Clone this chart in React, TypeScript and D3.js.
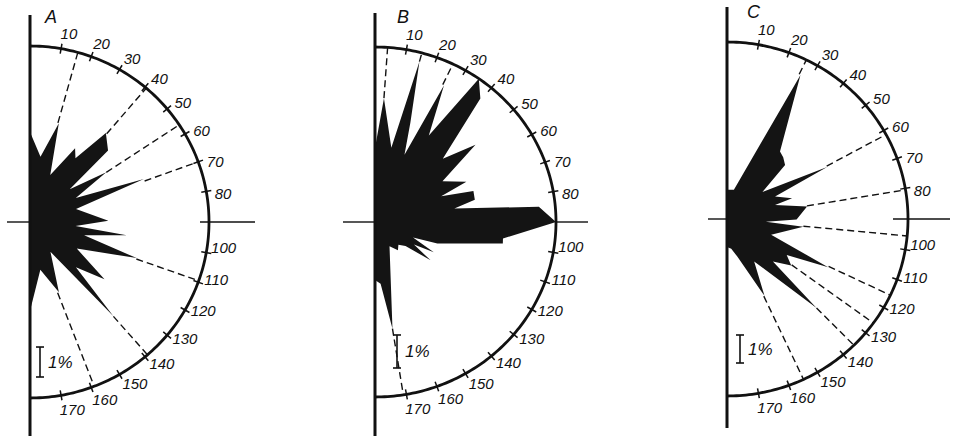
import * as d3 from "d3";
import React, { useEffect, useRef } from "react";

// outline of each rose: [direction in degrees, clockwise from the top, share in %]
const roseA: [number, number][] = [
    [0, 3.0], [9, 2.2], [16, 3.43], [23, 1.7], [31, 2.87], [35, 2.6],
    [40, 3.87], [47, 3.5], [50, 1.7], [56.5, 3.0], [62, 1.7], [69, 4.0],
    [74, 1.57], [89, 2.57], [95, 1.5], [98, 3.2], [104, 1.83], [109, 3.7],
    [120, 1.77], [128, 3.1], [135, 2.13], [139, 4.17], [146, 1.2],
    [158, 2.53], [168, 1.63], [180, 2.97],
];

const roseB: [number, number][] = [
    [0, 2.24], [4, 3.76], [12, 2.3], [15, 5.03], [19, 3.18], [23, 2.21],
    [26, 4.61], [31, 3.06], [35, 5.3], [39.5, 4.85], [46, 2.76],
    [51.5, 3.76], [58, 2.33], [65.5, 2.94], [68, 2.09], [72, 3.03],
    [77, 3.0], [80, 2.36], [84.5, 4.82], [90, 5.3], [97.6, 3.78],
    [99.9, 3.8], [109.7, 1.94], [113, 1.21], [118, 1.95], [121, 1.33],
    [125.5, 2.0], [129, 1.15], [135, 0.97], [142, 1.09], [150, 0.85],
    [171, 3.27], [175, 1.88], [180, 1.76],
];

const roseC: [number, number][] = [
    [0, 1.04], [13, 1.07], [26.5, 5.75], [37.5, 3.04], [41.7, 2.95],
    [46.4, 2.8], [52, 1.57], [62, 3.96], [64.5, 1.86], [72, 2.39],
    [73.5, 1.75], [81, 2.83], [90.5, 2.43], [94, 1.36], [96, 2.68],
    [110, 1.64], [116, 3.93], [121.7, 2.45], [126.5, 2.79], [133.5, 2.21],
    [135.5, 4.46], [148, 1.79], [154.5, 3.04], [165, 1.39], [172, 1.07],
    [180, 1.0],
];

// dashed guide lines: [direction, share where the guide starts]
const guidesA: [number, number][] = [
    [15.5, 3.43], [40.5, 3.87], [56.5, 3.0], [70, 4.0], [109.5, 3.7],
    [139, 4.17], [159, 2.53],
];
const guidesB: [number, number][] = [
    [4, 3.76], [15, 5.03], [25.5, 4.61], [171, 3.27],
];
const guidesC: [number, number][] = [
    [26, 5.75], [61.5, 3.96], [80.5, 2.83], [95.5, 2.68], [115.5, 3.93],
    [126, 2.79], [135.5, 4.46], [155, 3.04],
];

const tickAngles = d3.range(10, 180, 10).filter((a) => a !== 90);
const panelNames = ["A", "B", "C"];
const scaleLabel = "1%";

interface Panel {
    name: string;
    rose: [number, number][];
    guides: [number, number][];
    maxPct: number;
    cx: number;
    cy: number;
    rx: number;
    ry: number;
    axisTop: number;
    axisBottom: number;
    hLeft: number;
    hIn: number;
    hOut: number;
    barX: number;
    barBottom: number;
    nameX: number;
    nameY: number;
}

const panels: Panel[] = [
    {
        name: panelNames[0], rose: roseA, guides: guidesA, maxPct: 5.87,
        cx: 30, cy: 222, rx: 179, ry: 176, axisTop: 15, axisBottom: 436,
        hLeft: 23, hIn: 9, hOut: 46, barX: 40, barBottom: 377,
        nameX: 45, nameY: 23,
    },
    {
        name: panelNames[1], rose: roseB, guides: guidesB, maxPct: 5.3,
        cx: 375, cy: 222, rx: 181, ry: 175, axisTop: 13, axisBottom: 436,
        hLeft: 32, hIn: 0, hOut: 32, barX: 397, barBottom: 368,
        nameX: 397, nameY: 23,
    },
    {
        name: panelNames[2], rose: roseC, guides: guidesC, maxPct: 6.32,
        cx: 727, cy: 219, rx: 181, ry: 177, axisTop: 7, axisBottom: 428,
        hLeft: 19, hIn: 15, hOut: 42, barX: 740, barBottom: 363,
        nameX: 747, nameY: 18,
    },
];

const W = 956;
const H = 436;
const FONT = "'Liberation Sans', Arial, sans-serif";

function drawPanel(
    svg: d3.Selection<SVGSVGElement | null, unknown, null, undefined>,
    p: Panel
) {
    const xs = d3.scaleLinear().domain([0, p.maxPct]).range([0, p.rx]);
    const ys = d3.scaleLinear().domain([0, p.maxPct]).range([0, p.ry]);
    const rad = (deg: number) => (deg * Math.PI) / 180;
    const px = (a: number, v: number) => p.cx + xs(v) * Math.sin(rad(a));
    const py = (a: number, v: number) => p.cy - ys(v) * Math.cos(rad(a));

    const g = svg.append("g");

    // rose
    const outline = d3
        .line<[number, number]>()
        .x((d) => px(d[0], d[1]))
        .y((d) => py(d[0], d[1]))
        .curve(d3.curveLinearClosed);
    g.append("path")
        .datum(p.rose)
        .attr("d", outline)
        .attr("fill", "#141414");

    // guides
    p.guides.forEach(([a, v]) => {
        g.append("line")
            .attr("x1", px(a, v))
            .attr("y1", py(a, v))
            .attr("x2", px(a, p.maxPct))
            .attr("y2", py(a, p.maxPct))
            .attr("stroke", "#111")
            .attr("stroke-width", 1.4)
            .attr("stroke-dasharray", "7,4");
    });

    // half circle
    const arc = d3
        .line<number>()
        .x((a) => px(a, p.maxPct))
        .y((a) => py(a, p.maxPct));
    g.append("path")
        .datum(d3.range(0, 180.5, 1))
        .attr("d", arc)
        .attr("fill", "none")
        .attr("stroke", "#111")
        .attr("stroke-width", 2.8);

    // ticks and labels
    const tin = (p.maxPct * (p.ry - 5)) / p.ry;
    const tout = (p.maxPct * (p.ry + 5)) / p.ry;
    const tlab = (p.maxPct * (p.ry + 16)) / p.ry;
    tickAngles.forEach((a) => {
        g.append("line")
            .attr("x1", px(a, tin))
            .attr("y1", py(a, tin))
            .attr("x2", px(a, tout))
            .attr("y2", py(a, tout))
            .attr("stroke", "#111")
            .attr("stroke-width", 1.5);
        const la = a < 90 ? a + 1.5 : a - 2.5;
        g.append("text")
            .attr("x", px(la, tlab))
            .attr("y", py(la, tlab))
            .attr("text-anchor", "middle")
            .attr("dominant-baseline", "central")
            .attr("font-family", FONT)
            .attr("font-style", "italic")
            .attr("font-size", 15)
            .attr("fill", "#111")
            .text(String(a));
    });

    // horizontal reference line
    g.append("line")
        .attr("x1", p.cx - p.hLeft)
        .attr("x2", p.cx)
        .attr("y1", p.cy)
        .attr("y2", p.cy)
        .attr("stroke", "#111")
        .attr("stroke-width", 1.4);
    g.append("line")
        .attr("x1", p.cx + p.rx - p.hIn)
        .attr("x2", p.cx + p.rx + p.hOut)
        .attr("y1", p.cy)
        .attr("y2", p.cy)
        .attr("stroke", "#111")
        .attr("stroke-width", 1.4);

    // vertical axis
    g.append("line")
        .attr("x1", p.cx)
        .attr("x2", p.cx)
        .attr("y1", p.axisTop)
        .attr("y2", p.axisBottom)
        .attr("stroke", "#111")
        .attr("stroke-width", 3);

    // 1% scale bar
    const barTop = p.barBottom - ys(1);
    const bar = g.append("g").attr("stroke", "#111").attr("stroke-width", 1.6);
    bar.append("line")
        .attr("x1", p.barX).attr("x2", p.barX)
        .attr("y1", barTop).attr("y2", p.barBottom);
    [barTop, p.barBottom].forEach((y) => {
        bar.append("line")
            .attr("x1", p.barX - 4).attr("x2", p.barX + 4)
            .attr("y1", y).attr("y2", y);
    });
    g.append("text")
        .attr("x", p.barX + 8)
        .attr("y", (barTop + p.barBottom) / 2 + 6)
        .attr("font-family", FONT)
        .attr("font-style", "italic")
        .attr("font-size", 17)
        .attr("fill", "#111")
        .text(scaleLabel);

    // panel letter
    g.append("text")
        .attr("x", p.nameX)
        .attr("y", p.nameY)
        .attr("font-family", FONT)
        .attr("font-style", "italic")
        .attr("font-size", 18)
        .attr("fill", "#111")
        .text(p.name);
}

export default function App() {
    const svgRef = useRef<SVGSVGElement>(null);

    useEffect(() => {
        if (!svgRef.current) return;
        const svg = d3.select(svgRef.current);
        svg.selectAll("*").remove();
        panels.forEach((p) => drawPanel(svg, p));
    }, []);

    return (
        <svg
            ref={svgRef}
            width={W}
            height={H}
            style={{ position: "absolute", left: 0, top: 0, background: "#fff" }}
        />
    );
}
